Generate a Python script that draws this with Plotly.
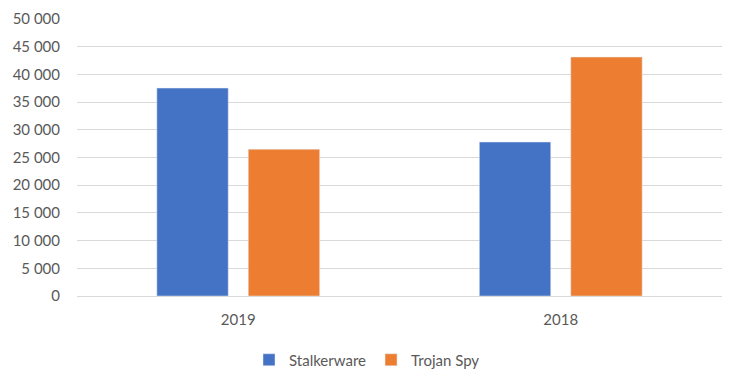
import plotly.graph_objects as go

categories = ["2019", "2018"]
stalkerware = [37532, 27798]
trojan_spy = [26500, 43140]
y_ticks = [0, 5000, 10000, 15000, 20000, 25000, 30000, 35000, 40000, 45000, 50000]

fig = go.Figure()
fig.add_trace(go.Bar(name="Stalkerware", x=categories, y=stalkerware, marker_color="#4472C4"))
fig.add_trace(go.Bar(name="Trojan Spy", x=categories, y=trojan_spy, marker_color="#ED7D31"))

# page body has an 8px margin, so positions are offset by 8px
fig.update_layout(
    width=739, height=387,
    margin=dict(l=69, r=25, t=11, b=99, autoexpand=False),
    paper_bgcolor="white", plot_bgcolor="white",
    barmode="group", bargap=0.433, bargroupgap=0.219,
    separators=", ",
    font=dict(family="Lato, Open Sans, sans-serif", size=15, color="#595959"),
    showlegend=True,
    legend=dict(orientation="h", x=(367 - 8) / 739, xanchor="center", xref="container",
                y=(387 - 352) / 387, yanchor="middle", yref="container",
                font=dict(size=15, color="#595959"), itemwidth=30, tracegroupgap=0),
    xaxis=dict(showgrid=False, showline=False, ticks="", tickfont=dict(size=15),
               ticklabelstandoff=13, automargin=False),
    yaxis=dict(range=[0, 50000], tickvals=y_ticks, tickformat=",d",
               gridcolor="#D9D9D9", gridwidth=1.3, zeroline=True, zerolinecolor="#D9D9D9",
               zerolinewidth=1.3, showline=False, ticks="", ticklabelstandoff=16,
               tickfont=dict(size=15), automargin=False),
)

fig.write_html("out.html")
